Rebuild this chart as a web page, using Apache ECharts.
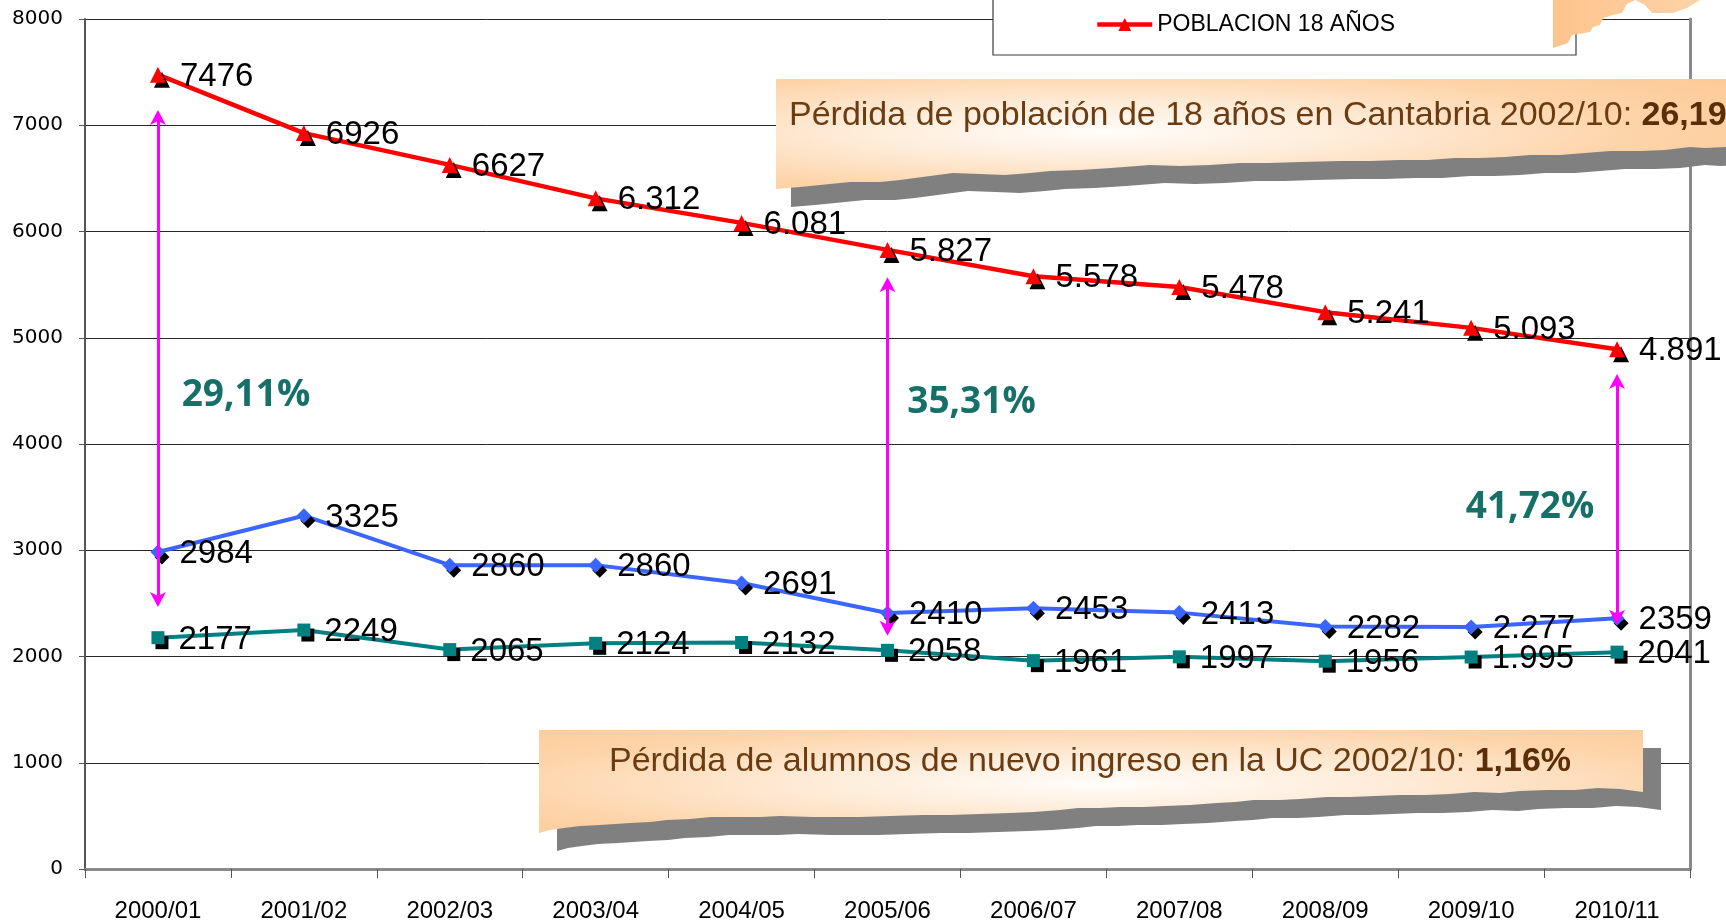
<!DOCTYPE html>
<html><head><meta charset="utf-8">
<script src="https://cdn.jsdelivr.net/npm/echarts@6/dist/echarts.min.js"></script>
<style>html,body{margin:0;padding:0;background:#fff}#c{width:1726px;height:923px}</style>
</head><body><div id="c"></div>
<script>
// ---------- data ----------
const categories = ['2000/01','2001/02','2002/03','2003/04','2004/05','2005/06','2006/07','2007/08','2008/09','2009/10','2010/11'];
const poblacion18 = [7476,6926,6627,6312,6081,5827,5578,5478,5241,5093,4891];
const poblacion18Labels = ['7476','6926','6627','6.312','6.081','5.827','5.578','5.478','5.241','5.093','4.891'];
const preinscritos = [2984,3325,2860,2860,2691,2410,2453,2413,2282,2277,2359];
const preinscritosLabels = ['2984','3325','2860','2860','2691','2410','2453','2413','2282','2.277','2359'];
const nuevoIngreso = [2177,2249,2065,2124,2132,2058,1961,1997,1956,1995,2041];
const nuevoIngresoLabels = ['2177','2249','2065','2124','2132','2058','1961','1997','1956','1.995','2041'];
const yMin = 0, yMax = 8000, yStep = 1000;
const arrowSpans = [['2000/01',7072,2537],['2005/06',5498,2267],['2010/11',4588,2370]];
const gapLabels = [['2000/01',4455,'29,11%'],['2005/06',4389,'35,31%'],['2010/11',3402,'41,72%']];
const calloutTop = ['Pérdida de población de 18 años en Cantabria 2002/10: ','26,19%'];
const calloutBottom = ['Pérdida de alumnos de nuevo ingreso en la UC 2002/10: ','1,16%'];
const seriesNames = ['ALUMNOS NUEVO INGRESO','ALUMNOS PREINSCRITOS','POBLACION 18 AÑOS'];

// ---------- styling helpers ----------
const NUM_FONT = 'Liberation Sans';
function fmt(labels){ return p => labels[p.dataIndex]; }
const markerShadow = {shadowColor:'#000', shadowOffsetX:4, shadowOffsetY:5, shadowBlur:0};
const arrowPath = 'path://M8,0 L16,15 L8,11 L0,15 Z';
const peach = '#fcc892';

function tornGroup(x0, y0, w, h, edge, k, cx, cy, shadowDx, shadowDy){
  const pts = [[0,0],[w/k,0]].concat(edge.map(p => [(p[0]-x0)/k, p[1]-y0]));
  const grad = {type:'radial', x:cx, y:cy, r:0.85, global:false,
    colorStops:[{offset:0,color:'#fffdfa'},{offset:0.3,color:'#feecd9'},{offset:0.65,color:'#fdd4a9'},{offset:1,color:peach}]};
  return [
    {type:'group', x:x0+shadowDx, y:y0+shadowDy, scaleX:k, z:9, children:[
      {type:'polygon', z:9, shape:{points:pts}, style:{fill:'#808080'}}]},
    {type:'group', x:x0, y:y0, scaleX:k, z:10, children:[
      {type:'polygon', z:10, shape:{points:pts}, style:{fill:grad}}]}
  ];
}

const edgeTop = [[1740,146],[1726,147],[1705,148],[1690,147],[1665,150],[1640,151],[1610,151],[1585,153],[1560,155],[1530,155],[1505,157],[1480,158],[1455,158],[1427,160],[1400,160],[1370,161],[1340,161],[1300,162],[1269,163],[1240,163],[1210,165],[1180,166],[1150,165],[1111,168],[1080,170],[1050,171],[1030,173],[1005,175],[980,174],[953,173],[930,176],[900,180],[880,182],[850,182],[820,185],[800,187],[776,189]];
const edgeBottom = [[1643,792],[1620,789],[1598,788],[1575,790],[1547,790],[1520,791],[1500,793],[1474,792],[1450,794],[1425,795],[1400,795],[1375,796],[1350,797],[1327,797],[1300,799],[1280,800],[1254,800],[1235,802],[1217,803],[1190,805],[1165,806],[1144,807],[1120,807],[1100,808],[1078,808],[1060,810],[1034,812],[1010,813],[980,814],[950,815],[923,815],[890,816],[860,817],[813,817],[780,816],[760,817],[740,817],[711,817],[690,819],[667,820],[650,822],[630,823],[600,825],[580,826],[564,828],[550,830],[539,833]];

const graphics = []
  .concat(tornGroup(776, 79, 964, 110, edgeTop, 964/110, 0.34, 0.48, 15, 18))
  .concat(tornGroup(539, 730, 1104, 103, edgeBottom, 1104/103, 0.51, 0.52, 18, 18));

const boxText = (x, y, align, parts) => ({type:'text', z:12, x:x, y:y, style:{text:'{n|'+parts[0]+'}{b|'+parts[1]+'}', verticalAlign:'middle', align:align,
    fill:'#6b3c12', rich:{n:{fontFamily:NUM_FONT, fontSize:34, fill:'#6b3c12'}, b:{fontFamily:NUM_FONT, fontSize:34, fontWeight:'bold', fill:'#5a2e08'}}}});

graphics.push(
  {type:'rect', z:3, shape:{x:993, y:-30, width:583, height:85}, style:{fill:'#fff', stroke:'#3c3c3c', lineWidth:1.2}},
  {type:'polygon', z:11, shape:{points:[[1553,-5],[1553,48],[1568,43],[1572,35],[1590,32],[1593,27],[1600,25],[1603,18],[1613,15],[1622,13],[1627,4],[1635,0],[1645,5],[1652,13],[1673,13],[1687,8],[1700,0],[1705,-5]]},
    style:{fill:{type:'linear',x:0,y:0,x2:1,y2:0,colorStops:[{offset:0,color:'#fcc48c'},{offset:1,color:'#fdd3a8'}]}}},
  boxText(789, 116, 'left', calloutTop),
  boxText(1090, 762, 'center', calloutBottom)
);

const labelCommon = {show:true, position:'right', distance:14, offset:[0,2], fontFamily:NUM_FONT, fontSize:33, color:'#000'};
const gapOffsets = [[88,0],[84,0],[-87,0]];

const option = {
  animation:false,
  backgroundColor:'#fff',
  grid:{left:85, right:36, top:19, bottom:53, containLabel:false},
  legend:{data:[seriesNames[2]], left:1095, top:13, padding:0, itemWidth:55, itemHeight:16, z:20,
    textStyle:{fontFamily:NUM_FONT, fontSize:23, color:'#000'},
    lineStyle:{width:4.5, color:'#ff0000'},
    itemStyle:{color:'#ff0000', shadowColor:'rgba(0,0,0,0)', shadowOffsetX:0, shadowOffsetY:0}},
  xAxis:[
    {type:'category', data:categories, boundaryGap:true, position:'bottom',
     axisLine:{lineStyle:{color:'#555', width:2}},
     axisTick:{show:true, length:9, interval:0, lineStyle:{color:'#555', width:1}},
     axisLabel:{interval:0, margin:30, fontFamily:NUM_FONT, fontSize:24, color:'#000'}},
    {type:'category', data:categories, boundaryGap:true, position:'top',
     axisLine:{lineStyle:{color:'#8a8a8a', width:3}}, axisTick:{show:false}, axisLabel:{show:false}}
  ],
  yAxis:[
    {type:'value', min:yMin, max:yMax, interval:yStep, position:'left',
     axisLine:{show:true, lineStyle:{color:'#555', width:2}},
     axisTick:{show:true, length:6, lineStyle:{color:'#555'}},
     axisLabel:{margin:22, formatter:v => String(v), fontFamily:'DejaVu Sans', fontSize:20, color:'#000'},
     splitLine:{show:true, lineStyle:{color:'#262626', width:1}}},
    {type:'value', min:yMin, max:yMax, interval:yStep, position:'right',
     axisLine:{show:true, lineStyle:{color:'#8a8a8a', width:3}}, axisTick:{show:false}, axisLabel:{show:false}, splitLine:{show:false}}
  ],
  series:[
    {name:seriesNames[0], type:'line', data:nuevoIngreso, symbol:'rect', symbolSize:13, z:3,
     lineStyle:{color:'#008080', width:4}, itemStyle:Object.assign({color:'#008080'}, markerShadow),
     label:Object.assign({formatter:fmt(nuevoIngresoLabels)}, labelCommon)},
    {name:seriesNames[1], type:'line', data:preinscritos, symbol:'diamond', symbolSize:15, z:4,
     lineStyle:{color:'#3a66ff', width:4}, itemStyle:Object.assign({color:'#3a66ff'}, markerShadow),
     label:Object.assign({formatter:fmt(preinscritosLabels)}, labelCommon)},
    {name:seriesNames[2], type:'line', data:poblacion18, symbol:'triangle', symbolSize:16, z:5,
     lineStyle:{color:'#ff0000', width:4.5}, itemStyle:Object.assign({color:'#ff0000'}, markerShadow),
     label:Object.assign({formatter:fmt(poblacion18Labels)}, labelCommon),
     markLine:{silent:true, symbol:[arrowPath, arrowPath], symbolSize:[16,15],
       label:{show:false}, lineStyle:{color:'#ff00ff', width:3, type:'solid'},
       emphasis:{disabled:true},
       data:arrowSpans.map(a => [{coord:[a[0], a[1]]},{coord:[a[0], a[2]]}])},
     markPoint:{silent:true, symbol:'rect', symbolSize:1,
       itemStyle:{color:'rgba(0,0,0,0)', shadowColor:'rgba(0,0,0,0)', shadowOffsetX:0, shadowOffsetY:0},
       data:gapLabels.map((g,i) => ({name:g[2], coord:[g[0], g[1]],
         label:{show:true, position:'inside', offset:gapOffsets[i], formatter:'{b}',
           fontFamily:'Open Sans', fontWeight:'bold', fontSize:37, color:'#167068'}}))}}
  ],
  graphic:{elements:graphics}
};

const chart = echarts.init(document.getElementById('c'), null, {renderer:'canvas'});
chart.setOption(option);
</script>
</body></html>
